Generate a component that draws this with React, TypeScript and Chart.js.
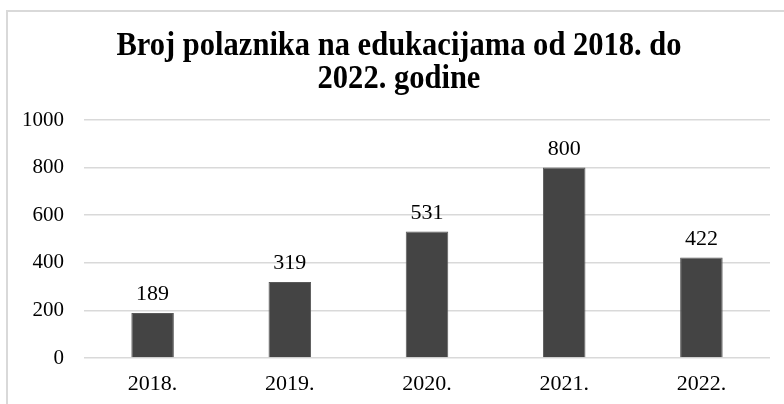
import React, { useEffect, useRef } from "react";
import { Chart, registerables } from "chart.js";

Chart.register(...registerables);

const categories = ["2018.", "2019.", "2020.", "2021.", "2022."];
const values = [189, 319, 531, 800, 422];
const titleLines = ["Broj polaznika na edukacijama od 2018. do", "2022. godine"];
const yTicks = [0, 200, 400, 600, 800, 1000];

const FONT = "'Liberation Serif', 'Times New Roman', serif";

const decorPlugin = {
  id: "decor",
  beforeDraw(chart: any) {
    const ctx = chart.ctx;
    ctx.save();
    ctx.fillStyle = "#ffffff";
    ctx.fillRect(0, 0, chart.width, chart.height);
    ctx.strokeStyle = "#d9d9d9";
    ctx.lineWidth = 2;
    ctx.strokeRect(7, 11, chart.width + 20, chart.height + 20);
    ctx.restore();
  },
  afterDraw(chart: any) {
    const ctx = chart.ctx;
    ctx.save();
    ctx.fillStyle = "#000000";
    ctx.textAlign = "center";
    ctx.textBaseline = "alphabetic";
    ctx.save();
    ctx.translate(399, 0);
    ctx.scale(0.925, 1);
    ctx.font = `bold 33px ${FONT}`;
    ctx.fillText(titleLines[0], 0, 55);
    ctx.fillText(titleLines[1], 0, 88);
    ctx.restore();
    ctx.font = `22px ${FONT}`;
    ctx.textBaseline = "alphabetic";
    const meta = chart.getDatasetMeta(0);
    meta.data.forEach((bar: any, i: number) => {
      ctx.fillText(String(values[i]), bar.x, bar.y - 13);
    });
    ctx.restore();
  },
};

export default function App() {
  const ref = useRef<HTMLCanvasElement>(null);
  useEffect(() => {
    if (!ref.current) return;
    const chart = new Chart(ref.current, {
      type: "bar",
      data: {
        labels: categories,
        datasets: [
          {
            data: values,
            backgroundColor: "#444444",
            borderColor: "#5a5a5a",
            borderWidth: 1,
            barPercentage: 0.31,
            categoryPercentage: 1,
          },
        ],
      },
      options: {
        animation: false,
        responsive: false,
        layout: { padding: { top: 120, right: 14, left: 0, bottom: 0 } },
        plugins: {
          legend: { display: false },
          title: { display: false },
          tooltip: { enabled: false },
        },
        scales: {
          x: {
            grid: { display: false, drawTicks: false },
            border: { display: false },
            ticks: { color: "#000", font: { family: FONT, size: 22 }, padding: 13 },
            afterFit(scale: any) {
              scale.height = 46;
            },
          },
          y: {
            min: 0,
            max: 1000,
            afterBuildTicks(scale: any) {
              scale.ticks = yTicks.map((v) => ({ value: v }));
            },
            grid: { color: "#d9d9d9", lineWidth: 1.5, drawTicks: false },
            border: { display: false },
            ticks: {
              color: "#000",
              font: { family: FONT, size: 21 },
              padding: 20,
              callback: (v: any) => String(v),
            },
            afterFit(scale: any) {
              scale.width = 84;
            },
          },
        },
      },
      plugins: [decorPlugin],
    } as any);
    return () => chart.destroy();
  }, []);
  return (
    <div style={{ position: "fixed", left: 0, top: 0, width: 784, height: 404 }}>
      <canvas ref={ref} width={784} height={404} style={{ display: "block" }} />
    </div>
  );
}
